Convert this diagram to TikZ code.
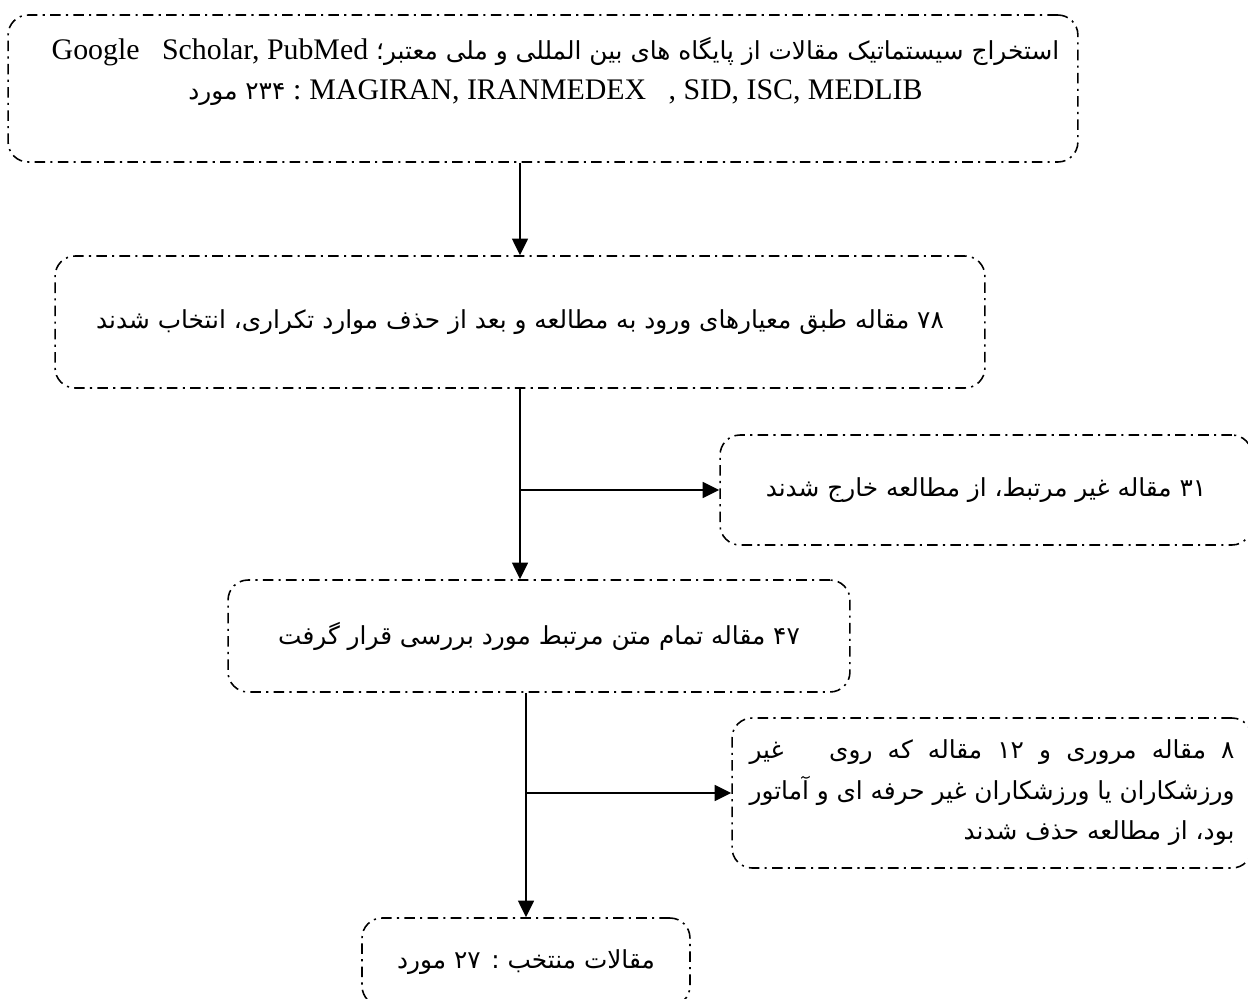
\documentclass[tikz,border=0pt]{standalone}
\usepackage{fontspec}
\setmainfont{Liberation Serif}
\newfontfamily\persfont[Script=Arabic,Scale=0.83]{DejaVu Sans}
\TeXXeTstate=1
\usetikzlibrary{arrows.meta}

\tikzset{
  flowbox/.style={draw, line width=0.9pt, rounded corners=0.4cm,
    dash pattern=on 6pt off 3pt on 1.2pt off 3pt, inner sep=0pt,
    align=center, font=\fontsize{17}{23}\selectfont},
  arr/.style={line width=1.3pt, -{Triangle[length=9.5pt,width=9pt]}}
}

\begin{document}
\begin{tikzpicture}[x=0.02cm,y=-0.02cm]
	\useasboundingbox (0,0) rectangle (1248,998);
	% boxes, top to bottom
	\node[flowbox, minimum width=21.4cm, minimum height=2.94cm] (search) at (543,88.5)
		{\hspace*{0.5cm}{\persfont\beginR استخراج سیستماتیک مقالات از پایگاه های بین المللی و ملی معتبر؛ \beginL{\rmfamily Google\ \ \ Scholar, PubMed}\endL\endR}\\
		 \hspace*{0.5cm}{\persfont\beginR\beginL{\rmfamily MAGIRAN, IRANMEDEX\ \ \ , SID, ISC, MEDLIB}\endL{} {\rmfamily :} ۲۳۴ مورد\endR}\\
		 \mbox{}};
	\node[flowbox, minimum width=18.6cm, minimum height=2.64cm] (screen) at (520,322)
		{{\persfont\beginR ۷۸ مقاله طبق معیارهای ورود به مطالعه و بعد از حذف موارد تکراری، انتخاب شدند\endR}};
	\node[flowbox, minimum width=10.64cm, minimum height=2.2cm] (excl) at (986,490)
		{{\persfont\beginR ۳۱ مقاله غیر مرتبط، از مطالعه خارج شدند\endR}};
	\node[flowbox, minimum width=12.44cm, minimum height=2.24cm] (full) at (539,636)
		{{\persfont\beginR ۴۷ مقاله تمام متن مرتبط مورد بررسی قرار گرفت\endR}};
	\node[flowbox, minimum width=10.4cm, minimum height=3cm, align=right] (remove) at (992,793)
		{\makebox[9.7cm][s]{\persfont\beginR ۸ مقاله مروری و ۱۲ مقاله که روی \ \ غیر\endR}\\
		 \makebox[9.7cm][s]{\persfont\beginR ورزشکاران یا ورزشکاران غیر حرفه ای و آماتور\endR}\\
		 {\persfont\beginR بود، از مطالعه حذف شدند\endR}};
	\node[flowbox, minimum width=6.56cm, minimum height=1.76cm] (final) at (526,962)
		{{\persfont\beginR مقالات منتخب : ۲۷ مورد\endR}};
	% arrows
	\draw[arr] (search.south -| screen.north) -- (screen.north);
	\draw[arr] (screen.south) -- (screen.south |- full.north);
	\draw[arr] (screen.south |- excl.west) -- (excl.west);
	\draw[arr] (final.north |- full.south) -- (final.north);
	\draw[arr] (final.north |- remove.west) -- (remove.west);
\end{tikzpicture}
\end{document}
